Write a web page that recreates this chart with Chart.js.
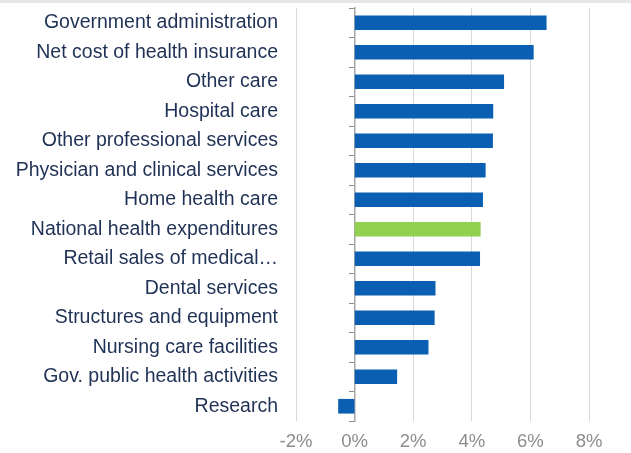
<!DOCTYPE html>
<html>
<head>
<meta charset="utf-8">
<script src="https://cdn.jsdelivr.net/npm/chart.js@4.4.1/dist/chart.umd.min.js"></script>
<style>
  html, body { margin: 0; padding: 0; background: #fff; }
  .strip { position: absolute; left: 0; top: 0; width: 631px; height: 3px; background: #e6e6e6; }
  .wrap { position: relative; width: 631px; height: 453px; }
</style>
</head>
<body>
<div class="wrap">
  <canvas id="chart" width="631" height="453"></canvas>
  <div class="strip"></div>
</div>
<script>
const categories = [
    'Government administration',
    'Net cost of health insurance',
    'Other care',
    'Hospital care',
    'Other professional services',
    'Physician and clinical services',
    'Home health care',
    'National health expenditures',
    'Retail sales of medical\u2026',
    'Dental services',
    'Structures and equipment',
    'Nursing care facilities',
    'Gov. public health activities',
    'Research'
];
// annual growth, percent
const growth = [6.54, 6.10, 5.09, 4.72, 4.71, 4.46, 4.37, 4.29, 4.27, 2.75, 2.72, 2.51, 1.44, -0.55];
const highlight = 'National health expenditures';
const xTicks = [-2, 0, 2, 4, 6, 8];

const blue = '#0b5fb2';
const green = '#92d050';

const ctx = document.getElementById('chart').getContext('2d');
new Chart(ctx, {
    type: 'bar',
    data: {
        labels: categories,
        datasets: [{
            data: growth,
            backgroundColor: categories.map(c => c === highlight ? green : blue),
            barThickness: 14,
            borderWidth: 0
        }]
    },
    options: {
        indexAxis: 'y',
        responsive: false,
        animation: false,
        layout: { padding: { top: 8, right: 42, bottom: 2, left: 0 } },
        plugins: { legend: { display: false }, tooltip: { enabled: false } },
        scales: {
            x: {
                min: xTicks[0],
                max: xTicks[xTicks.length - 1],
                afterBuildTicks: s => { s.ticks = xTicks.map(v => ({ value: v })); },
                grid: { color: '#d9d9d9', drawTicks: false },
                border: { display: false },
                ticks: {
                    color: '#8c8c8c',
                    font: { family: 'Liberation Sans, Arial', size: 18.5 },
                    padding: 10,
                    callback: v => v + '%'
                },
                afterFit: s => { s.height = 30; s.paddingLeft = 0; s.paddingRight = 0; }
            },
            y: {
                grid: { display: false, drawTicks: false },
                border: { display: false },
                ticks: {
                    color: '#1f3155',
                    font: { family: 'Liberation Sans, Arial', size: 19.5 },
                    padding: 18,
                    autoSkip: false
                },
                afterFit: s => { s.width = 296; s.paddingTop = 0; s.paddingBottom = 0; }
            },
            // axis line and tick marks sitting on the zero value
            yZero: {
                type: 'category',
                axis: 'y',
                labels: categories,
                position: { x: 0 },
                offset: true,
                grid: { drawOnChartArea: false, drawTicks: true, tickLength: 5, offset: true, color: '#8c8c8c' },
                border: { display: true, color: '#a6a6a6', width: 1.5 },
                ticks: { display: false },
                afterFit: s => { s.paddingTop = 0; s.paddingBottom = 0; }
            }
        }
    }
});
</script>
</body>
</html>
